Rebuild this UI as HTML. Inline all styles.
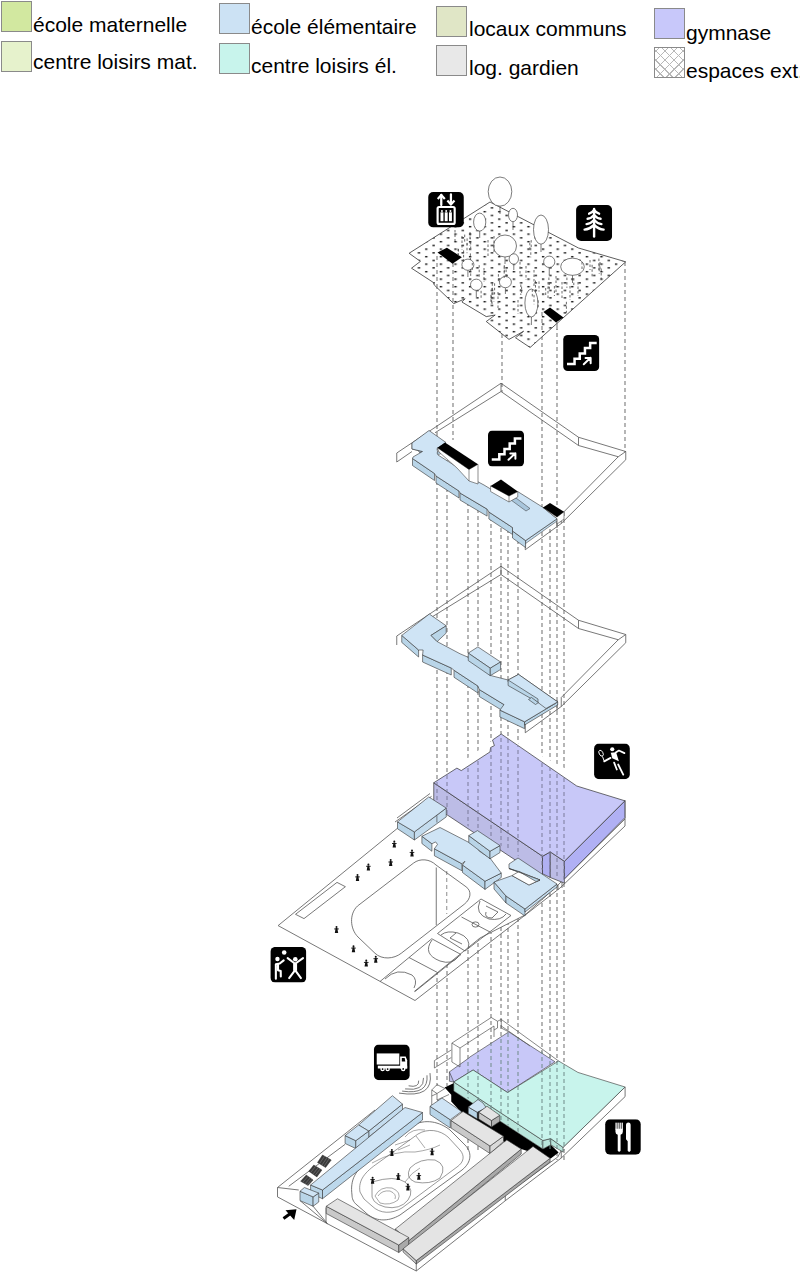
<!DOCTYPE html>
<html><head><meta charset="utf-8">
<style>
html,body{margin:0;padding:0;background:#fff;width:800px;height:1273px;overflow:hidden}
body{position:relative;font-family:"Liberation Sans",sans-serif;color:#000}
.sq{position:absolute;width:29px;height:29px;border:1px solid #8a8a8a;box-sizing:content-box}
.lt{position:absolute;font-size:21px;line-height:21px;white-space:nowrap}
svg{position:absolute;left:0;top:0}
</style></head><body>
<div class="sq" style="left:1px;top:1px;background:#d2e8a0;"></div>
<div class="lt" style="left:33px;top:14px;">école maternelle</div>
<div class="sq" style="left:1px;top:41px;background:#e6f2cc;"></div>
<div class="lt" style="left:33px;top:51px;">centre loisirs mat.</div>
<div class="sq" style="left:219px;top:3px;background:#cce2f4;"></div>
<div class="lt" style="left:251px;top:16px;">école élémentaire</div>
<div class="sq" style="left:219px;top:43px;background:#c8f4ec;"></div>
<div class="lt" style="left:251px;top:55px;">centre loisirs él.</div>
<div class="sq" style="left:436px;top:6px;background:#e0e6c6;"></div>
<div class="lt" style="left:469px;top:18px;">locaux communs</div>
<div class="sq" style="left:436px;top:45px;background:#e8e8e8;"></div>
<div class="lt" style="left:469px;top:57px;">log. gardien</div>
<div class="sq" style="left:654px;top:8px;background:#c8c8fa;"></div>
<div class="lt" style="left:686px;top:21.5px;">gymnase</div>
<div class="sq" style="left:654px;top:47px;background:repeating-linear-gradient(45deg,#fff 0,#fff 5.6px,#b8b8b8 5.6px,#b8b8b8 6.4px),#fff;"></div><div style="position:absolute;left:655px;top:48px;width:29px;height:29px;background:repeating-linear-gradient(-45deg,transparent 0,transparent 5.6px,#b8b8b8 5.6px,#b8b8b8 6.4px);"></div>
<div class="lt" style="left:686px;top:60px;">espaces ext.</div>

<svg width="800" height="1273" viewBox="0 0 800 1273">
<defs>
<pattern id="hatch" width="8" height="8" patternUnits="userSpaceOnUse">
<path d="M0,0 L8,8 M8,0 L0,8" stroke="#aaa" stroke-width="0.6" fill="none"/>
</pattern>
<pattern id="dots" width="14.6" height="7.5" patternUnits="userSpaceOnUse" x="0.8" y="0">
<rect width="14.6" height="7.5" fill="#fff"/>
<path d="M0.9,1.6 h2.4 M8.2,5.35 h2.4" stroke="#1a1a1a" stroke-width="1.4" fill="none"/>
</pattern>
<symbol id="i-elev" viewBox="0 0 36 36">
<rect x="0" y="0" width="36" height="36" rx="5" fill="#000"/>
<path d="M13.2,13.3 V3 M23,2.3 V12.5" stroke="#fff" stroke-width="2.3" fill="none" stroke-linecap="round"/><path d="M9.6,7 L13.2,3 L16.8,7 M19.4,8.6 L23,12.6 L26.6,8.6" stroke="#fff" stroke-width="2.2" fill="none" stroke-linecap="butt" stroke-linejoin="round"/>
<rect x="9.5" y="15.2" width="17.3" height="17.2" rx="1.5" stroke="#fff" stroke-width="2.2" fill="none"/>
<g fill="#fff"><circle cx="13.9" cy="19.3" r="1"/><circle cx="18.2" cy="19.3" r="1"/><circle cx="22.5" cy="19.3" r="1"/>
<rect x="12.4" y="20.6" width="3" height="9"/><rect x="16.7" y="20.6" width="3" height="9"/><rect x="21" y="20.6" width="3" height="9"/></g>
</symbol>
<symbol id="i-tree" viewBox="0 0 36 36">
<rect x="0" y="0" width="36" height="36" rx="5" fill="#000"/>
<g stroke="#fff" stroke-width="2.4" fill="none" stroke-linecap="round">
<path d="M18,4 V31.5"/>
<path d="M18,5 Q16,8 13,8.7 M18,5 Q20,8 23,8.7"/>
<path d="M18,10 Q15,13.5 11.5,13.8 M18,10 Q21,13.5 24.5,13.8"/>
<path d="M18,15 Q14.5,18.8 10.5,19.1 M18,15 Q21.5,18.8 25.3,19.1"/>
<path d="M18,20 Q13.5,24.2 8.5,24.6 M18,20 Q22.5,24.2 27.5,24.6"/>
</g></symbol>
<symbol id="i-stair" viewBox="0 0 36 36">
<rect x="0" y="0" width="36" height="36" rx="4.5" fill="#000"/>
<path d="M5,29 H11.3 V23.7 H16.5 V18.4 H21.7 V13.1 H26.9 V7.9 H32.2" stroke="#fff" stroke-width="2.5" fill="none" stroke-linecap="square"/>
<path d="M20.5,29.3 L27.3,22.8 M22.3,23 H27.4 V28.3" stroke="#fff" stroke-width="2" fill="none" stroke-linecap="round" stroke-linejoin="round"/>
</symbol>
<symbol id="i-tennis" viewBox="0 0 36 36">
<rect x="0" y="0" width="36" height="36" rx="5" fill="#000"/>
<circle cx="18.3" cy="5.8" r="2.1" fill="#fff"/>
<ellipse cx="7" cy="9.8" rx="1.9" ry="3.2" transform="rotate(-28 7 9.8)" stroke="#fff" stroke-width="0.9" fill="none"/>
<path d="M8.4,13 L10.2,17.6" stroke="#fff" stroke-width="1" fill="none"/>
<path d="M10.2,18 L16.6,14.5" stroke="#fff" stroke-width="1.8" fill="none" stroke-linecap="round"/>
<path d="M16.8,9.3 L22.2,8.7 L25,17.8 L18.3,14.9 Z" fill="#fff"/>
<path d="M21.8,9 L25,7.1 L30.6,9.7" stroke="#fff" stroke-width="1.8" fill="none" stroke-linecap="round" stroke-linejoin="round"/>
<path d="M20.2,19.3 L22.9,26.2 M24.3,21.2 L29.4,31.4" stroke="#fff" stroke-width="1.8" fill="none" stroke-linecap="round"/>
</symbol>
<symbol id="i-kids" viewBox="0 0 36 36">
<rect x="0" y="0" width="36" height="36" rx="5" fill="#000"/>
<g fill="#fff"><circle cx="13.8" cy="5.7" r="2.3"/><circle cx="7" cy="12.2" r="2.2"/><circle cx="25" cy="12.5" r="2.3"/></g>
<g stroke="#fff" stroke-width="2.1" fill="none" stroke-linecap="round" stroke-linejoin="round">
<path d="M5.4,32 V17.5 L9.3,16.8 L13.3,13.6"/>
<path d="M7.6,17.5 V23.5 L10.3,24.4 L10.4,29.8"/>
<path d="M17.3,11.3 L24.8,17 L32.8,11.3"/>
<path d="M18.8,31.4 L24.8,23.5 L30.7,31.4"/>
</g>
<path d="M22.8,16.5 H26.8 V24 H22.8 Z" fill="#fff"/>
</symbol>
<symbol id="i-truck" viewBox="0 0 36 36">
<rect x="0" y="0" width="36" height="36" rx="5" fill="#000"/>
<g fill="#fff">
<rect x="2.8" y="9" width="22.8" height="11.2"/>
<path d="M26.4,12 H32 L33.5,16 V24.2 H26.4 Z"/>
<rect x="3.9" y="21.4" width="29.6" height="2.8"/>
<circle cx="8.7" cy="24.8" r="2.3"/><circle cx="13.8" cy="24.8" r="2.3"/><circle cx="29.5" cy="24.6" r="2.3"/>
</g>
<path d="M28.1,13.6 H31 L31.6,17.2 H28.1 Z" fill="#000"/>
<g fill="#000"><circle cx="8.7" cy="24.8" r="0.9"/><circle cx="13.8" cy="24.8" r="0.9"/><circle cx="29.5" cy="24.6" r="0.9"/></g>
</symbol>
<symbol id="i-food" viewBox="0 0 36 36">
<rect x="0" y="0" width="36" height="36" rx="5" fill="#000"/>
<path d="M10.4,9.6 H17.9 V12.5 Q17.9,14.8 15.6,15.6 V32 Q14.2,34 12.7,32 V15.6 Q10.4,14.8 10.4,12.5 Z" fill="#fff"/>
<g fill="#fff"><rect x="10.4" y="3.4" width="1.3" height="7"/><rect x="12.45" y="3.4" width="1.3" height="7"/><rect x="14.55" y="3.4" width="1.3" height="7"/><rect x="16.6" y="3.4" width="1.3" height="7"/></g>
<path d="M23.5,3.2 Q25.8,3.2 25.8,6 V32 Q24.3,34.2 22.8,32 V22.2 L21.1,20.2 V6 Q21.1,3.2 23.5,3.2 Z" fill="#fff"/>
</symbol>
</defs>

<!-- DASHED COLUMNS -->
<g stroke="#7a7a7a" stroke-width="1.1" stroke-dasharray="4,3" fill="none">
<path d="M437,264 V1086"/>
<path d="M453,284 V440"/>
<path d="M502,334 V392"/>
<path d="M542,322 V1150"/>
<path d="M557,326 V1160"/>
<path d="M625,262 V452"/>
<path d="M447,460 V1086"/>
<path d="M468,474 V1150"/>
<path d="M478,488 V1150"/>
<path d="M491,496 V1150"/>
<path d="M501,500 V1150"/>
<path d="M508,508 V1150"/>
<path d="M518,512 V1150"/>
<path d="M550,515 V1150"/>
<path d="M564,512 V1160"/>
</g>
<!-- ROOF -->
<g id="roof">
<polygon points="409.1,253.25 490,202 578.5,248 625.7,261.8 530.1,347.5 515.5,337.75 523.6,331.25 509,339.4 486.25,321.5 495.2,315 486.25,316.6 461.9,302 465.1,298.75 453.75,303.6 434.25,285 433.4,282.5 411.5,268.2 420.4,261.4" fill="url(#dots)" stroke="#333" stroke-width="0.8"/>
<g stroke="#7a7a7a" stroke-width="1.1" stroke-dasharray="4,3" fill="none"><path d="M437,256 V290 M453,263 V305 M542,312 V330 M557,322 V330"/></g>
<g fill="#000"><polygon points="437.5,252.5 446.9,247.8 461.9,257.2 452.5,263.75"/><polygon points="543.4,312 550,307.5 563.5,317.4 556,322.5"/></g>
<g stroke="#444" stroke-width="0.7" fill="#fff">
<path d="M500,206 V214 M479.7,231 V238 M513,222 V230 M541,244 V252 M505,257 V264 M513.8,264 V270 M467.9,270 V277 M476.3,290 V297 M505.4,288 V294 M549.25,267 V275 M572.5,275 V283 M531.4,317 V325"/>
<ellipse cx="500" cy="191.6" rx="11.8" ry="14.6"/>
<ellipse cx="479.7" cy="222.1" rx="6.1" ry="9"/>
<ellipse cx="513" cy="215" rx="4.5" ry="6.7"/>
<ellipse cx="541" cy="229.6" rx="7.5" ry="14.6"/>
<ellipse cx="505" cy="246" rx="11.5" ry="11"/>
<ellipse cx="513.8" cy="259" rx="4.7" ry="5.2"/>
<ellipse cx="467.9" cy="264.7" rx="6" ry="5.6"/>
<ellipse cx="476.3" cy="284.75" rx="5.8" ry="5.6"/>
<ellipse cx="505.4" cy="282.1" rx="6" ry="5.6"/>
<ellipse cx="549.25" cy="261.8" rx="5.6" ry="5.7"/>
<ellipse cx="572.5" cy="266.75" rx="11.8" ry="8.6"/>
<ellipse cx="531.4" cy="303" rx="6.5" ry="14"/>
</g>
<g stroke="#444" stroke-width="0.8" stroke-dasharray="2.5,2" fill="none">
<path d="M467.0,243.3 V253.20000000000002 M458.5,249.0 V257.2 M458.0,248.6 V254.79999999999998 M470.7,242.0 V248.5 M470.4,253.4 V260.1 M463.6,250.4 V262.1 M479.2,265.2 V277.09999999999997 M470.7,268.9 V276.59999999999997 M472.3,262.9 V270.79999999999995 M493.9,292.3 V301.8 M490.9,294.8 V304.1 M481.1,290.8 V298.0 M491.6,295.6 V303.5 M504.3,265.2 V273.0 M506.1,269.6 V277.1 M504.2,266.5 V277.8 M535.5,280.6 V292.5 M520.8,284.5 V295.0 M521.6,286.7 V292.9 M534.0,294.9 V304.29999999999995 M539.0,281.4 V291.59999999999997 M532.3,289.4 V298.09999999999997 M538.2,300.3 V309.1 M566.9,277.6 V287.8 M566.4,301.8 V312.7 M554.4,286.0 V296.0 M545.7,288.0 V295.0 M548.9,277.5 V288.1 M549.3,282.4 V290.7 M573.8,278.1 V286.8 M494.6,283.3 V294.2 M498.4,274.2 V282.7 M492.3,283.3 V295.0 M529.8,242.8 V250.20000000000002 M530.8,247.8 V257.3 M531.2,240.1 V248.6 M592.1,264.8 V276.5 M599.2,264.2 V273.9 M598.9,258.6 V270.0 M601.2,268.5 V279.3 M467.1,238.4 V245.0 M470.2,233.0 V239.4 M464.7,234.6 V242.6 M455,230 V242 M462,236 V250 M470,232 V246 M488,240 V256 M494,236 V252 M520,262 V276 M526,266 V280 M534,270 V286 M548,282 V298 M556,276 V292 M562,282 V298 M570,286 V300 M578,282 V296 M492,288 V304 M498,292 V308 M484,268 V282 M518,300 V314 M582,262 V270 M590,260 V270 M600,262 V270"/>
</g>
</g>

<!-- LEVEL 2 -->
<g id="l2">
<g stroke="#555" stroke-width="0.8" fill="none" stroke-linejoin="round">
<path d="M396.75,453 L501,383.25 L578.5,437.25 L625.75,451.5 V459.75 L561.25,523.5 L525.25,549.75 V540"/>
<path d="M501,383.25 V391.5 M435,432.75 L501,391.5 L578.5,445.5 L618.25,456.75 L561.25,514.5 M578.5,437.25 V445.5 M625.75,451.5 L618.25,456.75 M561.25,514.5 V523.5 M557,517.5 V528"/>
<path d="M396.75,453 V462 L412,451.5"/>
</g>
<!-- blue side faces -->
<polygon points="412.5,458.5 434.5,473.5 434.5,480.5 412.5,465.5" fill="#b9d5e8" stroke="#333" stroke-width="0.6"/>
<polygon points="436,476 459,491 459,498 436,483" fill="#b9d5e8" stroke="#333" stroke-width="0.6"/>
<polygon points="460,493 487.1,509.1 487.1,516.1 460,500" fill="#b9d5e8" stroke="#333" stroke-width="0.6"/>
<polygon points="488.9,512 512.5,527.5 512.5,534.5 488.9,519" fill="#b9d5e8" stroke="#333" stroke-width="0.6"/>
<polygon points="512.5,531 525.6,540.6 525.6,547.6 512.5,538" fill="#b9d5e8" stroke="#333" stroke-width="0.6"/>
<polygon points="412,443 412,449 422.5,451.5 420,453" fill="#b9d5e8" stroke="#333" stroke-width="0.6"/>
<polygon points="525.6,540.6 557.1,518.75 557.1,521 525.6,543.5" fill="#c4dcee" stroke="#333" stroke-width="0.5"/>
<!-- blue top -->
<polygon points="429,430.5 446,442.5 437,448.5 438,455 457,467 469,477 484,485 490.6,489 509,499 517.75,491.6 543,507.4 557.1,518.75 525.6,540.6 512.5,531 512.5,527.5 488.9,512 487.1,509.1 460,493 459,491 436,476 434.5,473.5 412.5,458.5 413,457 422.5,451.5 412,449 412,443" fill="#cfe4f5" stroke="#333" stroke-width="0.6" stroke-linejoin="round"/>
<polygon points="511,500 516,498 530,508.5 526,511" fill="#a9c6dc" stroke="#333" stroke-width="0.5"/>
<ellipse cx="439" cy="453" rx="2" ry="1.3" fill="#b9d5e8" stroke="#333" stroke-width="0.5"/>
<!-- boxes -->
<g stroke="#444" stroke-width="0.6" fill="#fff">
<polygon points="437.5,447.75 469,469.5 478,464.25 478,484 469,481 457,468 439,452"/>
<path d="M469,469.5 V481" fill="none"/>
<polygon points="490.6,485.9 509,496 517.75,491.6 517.75,497 509,502 490.6,491.5"/>
<path d="M509,496 V502" fill="none"/>
<polygon points="543,507.4 557,517 564,511.75 564,519 557.1,524 557.1,518.75"/>
</g>
<g fill="#000">
<polygon points="437.5,447.75 445,442.5 478,464.25 469,469.5"/>
<polygon points="490.6,485.9 501,479.4 517.75,491.6 509,496"/>
<polygon points="543,507.4 550,503 564,511.75 557,517"/>
</g>
</g>
<!-- LEVEL 3 -->
<g id="l3">
<g stroke="#555" stroke-width="0.8" fill="none" stroke-linejoin="round">
<path d="M396.75,636 L501,566.25 L578.5,620.25 L625.75,634.5 V642.75 L561.25,706.5 L525.25,732.75 V723"/>
<path d="M501,566.25 V574.5 M427,620 L501,574.5 L578.5,628.5 L618.25,639.75 L561.25,697.5 M578.5,620.25 V628.5 M625.75,634.5 L618.25,639.75 M561.25,697.5 V706.5 M557,700.5 V711"/>
<path d="M396.75,636 V645"/>
</g>
<g stroke="#333" stroke-width="0.6" stroke-linejoin="round">
<polygon fill="#b9d5e8" points="401.75,635.4 418.6,650 418.6,657 401.75,642.4"/>
<polygon fill="#b9d5e8" points="422.6,655 451.25,668 451.25,675 422.6,662"/>
<polygon fill="#b9d5e8" points="454,670.25 477.9,686 477.9,693 454,677.25"/>
<polygon fill="#b9d5e8" points="479.25,689.5 504,704.6 504,711.6 479.25,696.5"/>
<polygon fill="#b9d5e8" points="499.9,710.1 524.6,721.8 524.6,728.7 499.9,717"/>
<polygon fill="#b9d5e8" points="524.6,721.8 557.7,701.9 557.7,705 524.6,725"/>
<polygon fill="#cfe4f5" points="401.75,635.4 429.3,614 446.2,625.8 431,635.4 437.2,641.6 460,653.75 467,656.75 491.6,675.75 508.1,680 518.5,674.4 557.7,701.9 524.6,721.8 499.9,710.1 504,704.6 479.25,689.5 477.9,686 454,670.25 451.25,668 422.6,655 423.1,650 418.6,650"/>
<polygon fill="#b9d5e8" points="431,635.4 446.2,625.8 446.2,633.1 437.2,641.6"/>
<polygon fill="#cfe4f5" points="468.25,653.1 477.9,646.9 500.6,662 490.25,668.2"/>
<polygon fill="#b9d5e8" points="468.25,653.1 490.25,668.2 490.25,675.7 468.25,660.6"/>
<polygon fill="#b9d5e8" points="490.25,668.2 500.6,662 500.6,669.5 490.25,675.7"/>
<polygon fill="#cfe4f5" points="508.1,680 518.5,674.4 557.7,701.9 546,708.5 538,702.5 508.1,682"/>
<polygon fill="#b9d5e8" points="508.1,680 538,699 538,702.5 508.1,685.5"/>
<polygon fill="#b9d5e8" points="531.5,697.5 538.4,702.6 535.5,704.5 528.5,699.5"/>
</g>
</g>

<!-- LEVEL 4 -->
<g id="l4">
<polygon fill="#fff" points="278.1,925.6 397.5,828.25 431.5,796.4 433.75,782.75 501.25,734 624.9,800.8 624.9,823.9 562,885 558,885 525,915 480,938 414.25,991.5 380,981.5"/>
<path d="M446.75,871 V914" stroke="#8c8c8c" stroke-width="1" stroke-dasharray="4,3" fill="none"/>
<path d="M414.25,991.5 L480,938 L525,915 L558,885 L625,819" stroke="#555" stroke-width="0.8" fill="none"/>
<g stroke="#555" stroke-width="0.8" fill="none" stroke-linejoin="round">
<path d="M397.5,828.25 L278.1,925.6 L415,1000.5 L480,950 L524,916 L560,888 L625,826 V800 M558,885 V890 M562,881 V888"/>
<path d="M395,822 L431.5,796.4 M397,818 L430,793.5"/>
<path d="M295.5,914.3 L337,882.4 L345.4,886.7 L304,918.6 Z"/>
<path d="M436.25,867.5 V925.25"/>
<path d="M413.5,863.1 C420,858 430,859 436,865 L466,886.75 C472,891 471,899 464.25,904.25 L401.25,953.25 C394,959 382,960 375,953.25 L358,937 C350,929 349,914 357.5,906 Z"/>
<path d="M437.5,933.5 L481,899 L511,915.5 L465,951 Z M461.5,917 L490,932 M380,981.5 L431.75,938.75 L461,954.5 L414.9,991.6 M409,957.5 L437.5,972.5"/>
<ellipse cx="475.5" cy="924.5" rx="3.5" ry="2.6"/>
<path d="M480,901 Q474,914 489,919 Q501,921 506,914 M468,949 Q472,938 458,933 Q447,930 441,935"/>
<path d="M486,906 L498,912 L492,918 Q484,918 486,912 M462,944 L450,938 L456,933"/>
<path d="M432,940 Q422,954 440,961 Q452,965 458,957 M385,979 Q397,967 412,975 Q418,980 414,988"/>
</g>
<!-- gym -->
<g stroke="#333" stroke-width="0.7" stroke-linejoin="round">
<polygon fill="#bcbce6" points="433.75,782.75 542.5,856.25 542.5,878 433.75,806"/>
<polygon fill="#b0b0f2" points="542.5,856.25 550.25,851.9 550.25,877.5 542.5,873.75"/>
<polygon fill="#bcbce6" points="550.25,851.9 564.4,861.25 564.4,883.1 550.25,877.5"/>
<polygon fill="#b0b0f4" points="564.4,861.25 624.9,800.8 624.9,817.7 564.4,879"/>
<polygon fill="#c8c8f8" points="433.75,782.75 456.9,768.1 461.25,770.6 490,751.9 490.6,747.5 494.4,745.6 492.5,740 501.25,734 576.75,786 624.9,800.8 564.4,861.25 550.25,851.9 542.5,856.25"/>
</g>
<clipPath id="gymclip"><polygon points="433.75,782.75 456.9,768.1 461.25,770.6 490,751.9 490.6,747.5 494.4,745.6 492.5,740 501.25,734 576.75,786 624.9,800.8 624.9,817.7 564.4,883.1 433.75,806"/></clipPath>
<g stroke="#7a7a9a" stroke-width="1" stroke-dasharray="4,3" fill="none" clip-path="url(#gymclip)">
<path d="M437,264 V1150 M447,460 V1150 M468,474 V1150 M478,488 V1150 M491,496 V1150 M501,500 V1150 M508,508 V1150 M518,512 V1150 M542,322 V1150 M550,515 V1150 M557,326 V1160 M564,512 V1160"/>
</g>
<!-- L4 blue buildings -->
<g stroke="#333" stroke-width="0.6" stroke-linejoin="round">
<polygon fill="#b9d5e8" points="397.5,821.9 414.4,831.9 414.4,840 397.5,828.75"/>
<polygon fill="#c4dcee" points="414.4,831.9 446.25,808.1 446.25,816.9 414.4,840"/>
<polygon fill="#cfe4f5" points="397.5,821.9 428.75,796.9 446.25,808.1 414.4,831.9"/>
<path d="M436.9,815.5 V822.5" fill="none"/>
<polygon fill="#b9d5e8" points="421.9,836.25 431.9,843.75 431.9,851.25 421.9,843.5"/>
<polygon fill="#b9d5e8" points="434.4,848.75 461.9,863.75 461.9,870.75 434.4,855.75"/>
<polygon fill="#b9d5e8" points="462.5,865 485,881.25 485,889.4 462.5,872.5"/>
<polygon fill="#c4dcee" points="485,881.25 501.25,873.1 501.25,877.5 485,889.4"/>
<polygon fill="#cfe4f5" points="421.9,836.25 440,827.5 476.25,846.25 479.4,851.25 490,858.1 501.25,873.1 485,881.25 462.5,865 465,861.25 461.9,863.75 434.4,848.75 437.5,844.4 435.6,841.9 431.9,843.75"/>
<polygon fill="#b9d5e8" points="468.75,835.6 490,851.25 490,858.75 468.75,842.5"/>
<polygon fill="#c4dcee" points="490,851.25 500,845.6 500,852.5 490,858.75"/>
<polygon fill="#cfe4f5" points="468.75,835.6 477.5,830.6 500,845.6 490,851.25"/>
<polygon fill="#b9d5e8" points="494,882 506,896 506,903 494,889"/>
<polygon fill="#b9d5e8" points="506,896 525,909 525,916 506,903"/>
<polygon fill="#c4dcee" points="525,909 557,884 557,887 525,912"/>
<polygon fill="#cfe4f5" points="509,864 518,858 557,884 525,909 506,896 494,882 512,875.6 529,885 540,880 509,868.5"/>
<polygon fill="#fff" points="512,875.6 519,871.5 540,880 529,885"/>
<polygon fill="#b9d5e8" points="509,868.5 540,880 536,881.5 519,871.5"/>
</g>
<!-- people L4 -->
<g fill="#111">
<circle cx="394.3" cy="841.60" r="1"/><path d="M393.50,842.60 h1.6 l0.9,5 h-3.4 z"/><path d="M392.00,843.50 h4.6" stroke="#111" stroke-width="0.9"/>
<circle cx="412.0" cy="850.55" r="1"/><path d="M411.20,851.55 h1.6 l0.9,5 h-3.4 z"/><path d="M409.70,852.45 h4.6" stroke="#111" stroke-width="0.9"/>
<circle cx="390.7" cy="860.10" r="1"/><path d="M389.90,861.10 h1.6 l0.9,5 h-3.4 z"/><path d="M388.40,862.00 h4.6" stroke="#111" stroke-width="0.9"/>
<circle cx="368.4" cy="864.40" r="1"/><path d="M367.60,865.40 h1.6 l0.9,5 h-3.4 z"/><path d="M366.10,866.30 h4.6" stroke="#111" stroke-width="0.9"/>
<circle cx="357.5" cy="875.00" r="1"/><path d="M356.70,876.00 h1.6 l0.9,5 h-3.4 z"/><path d="M355.20,876.90 h4.6" stroke="#111" stroke-width="0.9"/>
<circle cx="336.5" cy="927.05" r="1"/><path d="M335.70,928.05 h1.6 l0.9,5 h-3.4 z"/><path d="M334.20,928.95 h4.6" stroke="#111" stroke-width="0.9"/>
<circle cx="353.5" cy="946.20" r="1"/><path d="M352.70,947.20 h1.6 l0.9,5 h-3.4 z"/><path d="M351.20,948.10 h4.6" stroke="#111" stroke-width="0.9"/>
<circle cx="366.25" cy="960.55" r="1"/><path d="M365.45,961.55 h1.6 l0.9,5 h-3.4 z"/><path d="M363.95,962.45 h4.6" stroke="#111" stroke-width="0.9"/>
<circle cx="375.75" cy="956.80" r="1"/><path d="M374.95,957.80 h1.6 l0.9,5 h-3.4 z"/><path d="M373.45,958.70 h4.6" stroke="#111" stroke-width="0.9"/>
</g>

</g>

<!-- LEVEL 5 GROUND -->
<g id="l5">
<g stroke="#555" stroke-width="0.8" fill="none" stroke-linejoin="round">
<!-- slab outline -->
<path d="M277.5,1187.5 L375,1110 M288.75,1186.25 L345,1144.4 M277.5,1187.5 V1196.9 L327.5,1223.75 L416.25,1271 L505.25,1200.75 L561.25,1158 L625.1,1096.6 V1087 L563,1147.4 L557.75,1157 L505.25,1195 L416.25,1262"/>
<path d="M277.5,1187.5 L298.75,1190 M300,1200.6 L327.5,1223.75 M313.1,1206.25 L327.5,1223.75 M416.25,1262 V1271 M505.25,1195 V1200.75 M561.25,1147.4 V1158"/>
<path d="M326,1207.5 L326,1223"/>
<!-- track -->
<path d="M352,1195 C350,1180 355,1170 370,1160 L412,1126 C425,1118 440,1122 450,1130 L465,1145 C472,1152 472,1162 462,1170 L400,1215 C388,1222 375,1222 365,1212 L357,1205 C353,1202 352,1198 352,1195 Z"/>
<path d="M360,1192 C358,1180 365,1172 378,1163 L418,1134 C428,1128 440,1130 448,1137 L460,1150 C465,1156 464,1162 457,1167 L402,1208 C392,1214 380,1214 372,1206 L364,1199 Z" stroke-width="0.6"/>
<path d="M372,1182 Q395,1175 405,1182 Q415,1190 408,1200 Q400,1210 385,1207 Q370,1203 372,1192 Z" stroke-width="0.6"/>
<path d="M375,1196 Q380,1186 392,1188 Q402,1192 398,1200 Q390,1206 380,1203 Z" stroke-width="0.5"/>
<path d="M378,1196 Q382,1190 390,1191 Q397,1194 395,1199" stroke-width="0.5"/>
<path d="M410,1168 Q420,1158 435,1160 Q448,1165 440,1178 Q430,1185 415,1182 Q405,1178 410,1168 Z" stroke-width="0.6"/>
<path d="M372,1163 Q395,1150 415,1152 Q430,1150 440,1145 M405,1182 Q412,1172 420,1168 M395,1145 L410,1140 M398,1150 L410,1145 M405,1137 Q412,1128 425,1130 M416,1136 L425,1148" stroke-width="0.5"/>

</g>
<!-- black band -->
<polygon fill="#000" points="444.6,1087.5 454,1083 454,1091 542.9,1149 550.75,1144.75 558.6,1152.6 550.75,1158.5 521.2,1149.1 503.5,1141.5 461,1112 451.25,1101.5 451.25,1094.75"/>
<!-- green -->
<g stroke="#333" stroke-width="0.6" stroke-linejoin="round">
<polygon fill="#b9e6dc" points="453.75,1082 542.9,1140.5 542.9,1149 453.75,1091"/>
<polygon fill="#b9e6dc" points="542.9,1140.5 550.75,1138.6 550.75,1144.75 542.9,1149"/>
<polygon fill="#b9e6dc" points="550.75,1138.6 563,1147.4 563,1152 550.75,1144.75"/>
<polygon fill="#bcbce6" points="449.4,1071.9 453.75,1074.5 453.75,1082 449.4,1081.25"/>
<polygon fill="#c8c8f8" points="449.4,1071.9 468.75,1058.1 470,1056.9 508.75,1031.9 555,1061.75 507.5,1092.5 473.1,1070 453.75,1081.9"/>
<polygon fill="#c8f4ec" points="453.75,1082 473.1,1070 507.5,1092.5 558.6,1061 577.9,1072.4 625.1,1087 563,1147.4 550.75,1138.6 542.9,1140.5"/>
</g>
<clipPath id="l5clip"><polygon points="449.4,1071.9 470,1056.9 508.75,1031.9 558.6,1061 577.9,1072.4 625.1,1086.9 563,1152 542.9,1148.5 453.75,1089"/></clipPath>
<g stroke="#6f8a88" stroke-width="1" stroke-dasharray="4,3" fill="none" clip-path="url(#l5clip)">
<path d="M437,264 V1150 M447,460 V1150 M468,474 V1150 M478,488 V1150 M491,496 V1150 M501,500 V1150 M508,508 V1150 M518,512 V1150 M542,322 V1150 M550,515 V1150 M557,326 V1160 M564,512 V1160"/>
</g>
<!-- wireframe box behind -->
<g stroke="#555" stroke-width="0.7" fill="none" stroke-linejoin="round">
<path d="M434.4,1060.6 L451.25,1050 M434.4,1060.6 V1068 L451.25,1057.5 M451.9,1043.1 L491.25,1017.5 L497.5,1021.25 L501.25,1019.4 L558.6,1061 M451.9,1043.1 V1062 L460,1067 M451.9,1043.1 L460,1048 V1067 M460,1048 L494,1026 V1037 M497.5,1021.25 V1028 L494,1030 M501.25,1019.4 V1028 L508.75,1031.9 M501.25,1026 L530,1046"/>
<path d="M431.75,1090 L437,1084.6 L444.9,1088.5 M431.75,1090 L437,1093.5 L444.9,1088.5 M431.75,1090 V1105 M437,1093.5 V1100 M431.75,1096 L437,1093.5 M437,1100 L449,1094.5 M437,1100 L443,1103"/>
</g>
<!-- truck sound arcs -->
<g stroke="#555" stroke-width="0.8" fill="none">
<path d="M408.6,1085.8 Q419.1,1088 418.7,1080.6"/>
<path d="M405.1,1088.9 Q424.4,1091.6 423.5,1077.9"/>
<path d="M402.1,1091.1 Q428.75,1095.1 427,1075.3"/>
<path d="M399,1093.1 Q434,1098.6 430,1073.1"/>
</g>
<!-- blue ground -->
<g stroke="#333" stroke-width="0.6" stroke-linejoin="round">
<polygon fill="#b9d5e8" points="430,1106.25 450.25,1119.75 450.25,1128 430,1114.5"/>
<polygon fill="#cfe4f5" points="430,1106.25 442,1098 461.5,1111.5 450.25,1119.75"/>
<polygon fill="#b9d5e8" points="468.25,1107 477.25,1112.25 477.25,1119 468.25,1113.5"/>
<polygon fill="#cfe4f5" points="468.25,1107 478,1099.5 483,1103 486.25,1107.75 477.25,1112.25"/>
<!-- G3 -->
<polygon fill="#c4dcee" points="368.75,1131.1 402.5,1104.1 402.5,1110 368.75,1137"/>
<polygon fill="#b9d5e8" points="345.1,1135.6 355.8,1140.7 355.8,1148.5 345.1,1143.5"/>
<polygon fill="#c4dcee" points="355.8,1140.7 368.75,1131.1 368.75,1138 355.8,1148.5"/>
<polygon fill="#cfe4f5" points="358.6,1125 392.4,1095.7 402.5,1104.1 368.75,1131.1"/>
<polygon fill="#cfe4f5" points="345.1,1135.6 358.6,1125 368.75,1131.1 355.8,1140.7"/>
<!-- G4 long -->
<polygon fill="#bcd8ec" points="322.5,1190 422.5,1112.5 422.5,1120 322.5,1198.75"/>
<polygon fill="#b9d5e8" points="310.6,1185 322.5,1190 322.5,1198.75 310.6,1193"/>
<polygon fill="#cfe4f5" points="310.6,1185 405,1107.5 422.5,1112.5 322.5,1190"/>
<!-- G5 -->
<polygon fill="#b9d5e8" points="300,1191.25 313.1,1196.9 313.1,1206.25 300,1200.6"/>
<polygon fill="#c4dcee" points="313.1,1196.9 318.75,1193.1 318.75,1202 313.1,1206.25"/>
<polygon fill="#cfe4f5" points="300,1191.25 304.4,1187.5 318.75,1193.1 313.1,1196.9"/>
</g>
<!-- solar panels -->
<g fill="#3a3a3a" stroke="#222" stroke-width="0.4">
<polygon points="317.5,1162.5 322.5,1155 331.25,1160 325.6,1167.5"/>
<polygon points="308.75,1171.25 313.75,1165 321.9,1170 316.9,1176.9"/>
<polygon points="300.6,1181.25 306.25,1175 313.1,1180 308.1,1185.6"/>
</g>
<g stroke="#888" stroke-width="0.5">
<path d="M319.5,1163.7 L324.5,1156.3 M322,1165 L327,1157.6 M324,1166.3 L329,1158.9 M310.7,1172.4 L315.7,1166.2 M313.2,1173.8 L318.2,1167.6 M315.2,1175.1 L320.2,1168.9 M302.6,1182.4 L308.2,1176.2 M305,1183.8 L310.5,1177.6 M307,1185 L312.3,1178.8"/>
</g>
<!-- grey blocks -->
<g stroke="#333" stroke-width="0.6" stroke-linejoin="round">
<polygon fill="#c9c9c9" points="451,1120.5 490,1146 490,1153.5 451,1128"/>
<polygon fill="#d9d9d9" points="490,1146 503.5,1136.25 503.5,1141.5 490,1153.5"/>
<polygon fill="#e4e4e4" points="451,1120.5 463,1111.5 503.5,1136.25 490,1146"/>
<polygon fill="#c9c9c9" points="478.75,1112.25 491.5,1120.5 491.5,1127 478.75,1119"/>
<polygon fill="#b0b0b0" points="491.5,1120.5 499.75,1115.25 499.75,1121.5 491.5,1127"/>
<polygon fill="#e4e4e4" points="478.75,1112.25 487,1106.25 499.75,1115.25 491.5,1120.5"/>
<polygon fill="#a9a9a9" points="408.4,1241 521.2,1149.1 521.2,1154 408.4,1246"/>
<polygon fill="#e4e4e4" points="395.25,1229.1 506.8,1139.9 521.2,1149.1 408.4,1241"/>
<polygon fill="#c9c9c9" points="395.25,1229.1 408.4,1241 408.4,1246 395.25,1236"/>
<polygon fill="#c9c9c9" points="326.25,1206.25 398.75,1245 398.75,1252.5 326.25,1213.5"/>
<polygon fill="#a9a9a9" points="398.75,1245 408.75,1237.5 408.75,1245 398.75,1252.5"/>
<polygon fill="#e4e4e4" points="326.25,1206.25 337.5,1198.75 408.75,1237.5 398.75,1245"/>
<polygon fill="#a9a9a9" points="416.25,1260.6 550.1,1158.25 550.1,1162 416.25,1264"/>
<polygon fill="#c9c9c9" points="403.1,1248.8 416.25,1260.6 416.25,1264 403.1,1252"/>
<polygon fill="#e4e4e4" points="403.1,1248.8 533,1146.4 550.1,1158.25 416.25,1260.6"/>
</g>
<!-- arrow -->
<path d="M283.5,1218.5 L291.5,1212.8" stroke="#000" stroke-width="3" fill="none"/>
<polygon fill="#000" points="296.5,1209.3 285.5,1210.3 294.2,1220"/>
<!-- people ground -->
<g fill="#111">
<circle cx="391.9" cy="1150.00" r="1"/><path d="M391.10,1151.00 h1.6 l0.9,5 h-3.4 z"/><path d="M389.60,1151.90 h4.6" stroke="#111" stroke-width="0.9"/>
<circle cx="432.1" cy="1149.30" r="1"/><path d="M431.30,1150.30 h1.6 l0.9,5 h-3.4 z"/><path d="M429.80,1151.20 h4.6" stroke="#111" stroke-width="0.9"/>
<circle cx="398.3" cy="1173.90" r="1"/><path d="M397.50,1174.90 h1.6 l0.9,5 h-3.4 z"/><path d="M396.00,1175.80 h4.6" stroke="#111" stroke-width="0.9"/>
<circle cx="418.8" cy="1173.70" r="1"/><path d="M418.00,1174.70 h1.6 l0.9,5 h-3.4 z"/><path d="M416.50,1175.60 h4.6" stroke="#111" stroke-width="0.9"/>
<circle cx="372.6" cy="1177.70" r="1"/><path d="M371.80,1178.70 h1.6 l0.9,5 h-3.4 z"/><path d="M370.30,1179.60 h4.6" stroke="#111" stroke-width="0.9"/>
<circle cx="407.9" cy="1184.40" r="1"/><path d="M407.10,1185.40 h1.6 l0.9,5 h-3.4 z"/><path d="M405.60,1186.30 h4.6" stroke="#111" stroke-width="0.9"/>
</g>
</g>

<!-- ICONS -->
<use href="#i-elev" x="428" y="192" width="36" height="35.5"/>
<use href="#i-tree" x="576" y="205" width="36.2" height="36"/>
<use href="#i-stair" x="563" y="335" width="36.5" height="36"/>
<use href="#i-stair" x="488" y="430.5" width="36" height="36"/>
<use href="#i-tennis" x="593.7" y="743.5" width="36.5" height="35.7"/>
<use href="#i-kids" x="270.2" y="946.9" width="36.3" height="35.7"/>
<use href="#i-truck" x="373.4" y="1044.5" width="36.8" height="35.7"/>
<use href="#i-food" x="604.7" y="1119.3" width="36.5" height="35.5"/>
</svg>
</body></html>
